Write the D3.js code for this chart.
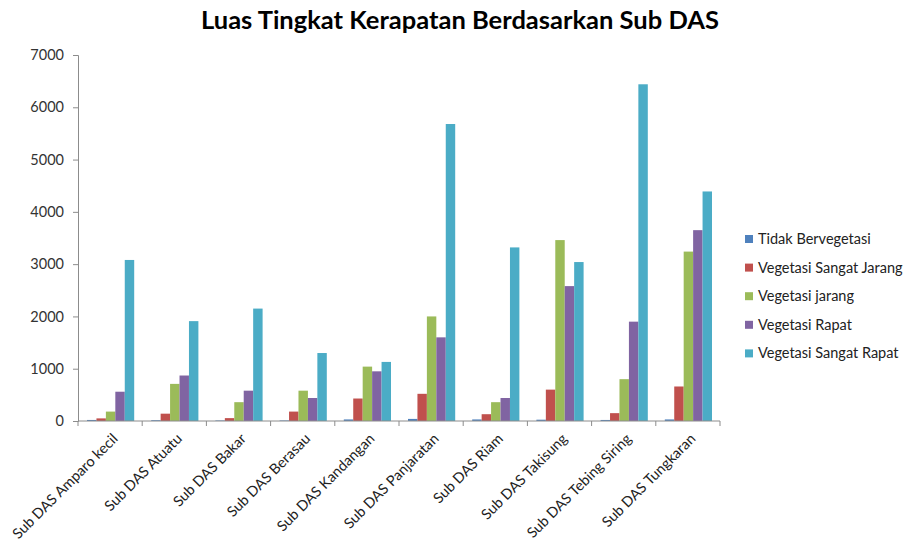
<!DOCTYPE html>
<html>
<head>
<meta charset="utf-8">
<script src="https://cdn.jsdelivr.net/npm/d3@7"></script>
<style>
  body { margin: 0; background: #fff; }
  svg { font-family: Lato, "Open Sans", sans-serif; }
</style>
</head>
<body>
<div id="vis"></div>
<script>
var categories = ["Sub DAS Amparo kecil", "Sub DAS Atuatu", "Sub DAS Bakar", "Sub DAS Berasau",
  "Sub DAS Kandangan", "Sub DAS Panjaratan", "Sub DAS Riam", "Sub DAS Takisung",
  "Sub DAS Tebing Siring", "Sub DAS Tungkaran"];
var seriesNames = ["Tidak Bervegetasi", "Vegetasi Sangat Jarang", "Vegetasi jarang", "Vegetasi Rapat", "Vegetasi Sangat Rapat"];
var tidakBervegetasi   = [20, 15, 10, 10, 30, 40, 30, 25, 20, 30];
var sangatJarang       = [50, 140, 55, 180, 430, 520, 130, 600, 150, 660];
var jarang             = [180, 710, 360, 580, 1040, 2000, 360, 3460, 800, 3240];
var rapat              = [560, 870, 580, 440, 950, 1600, 440, 2580, 1900, 3650];
var sangatRapat        = [3080, 1910, 2150, 1300, 1130, 5680, 3320, 3040, 6440, 4390];
var yTicks = [0, 1000, 2000, 3000, 4000, 5000, 6000, 7000];
var colours = ["#4F81BD", "#C0504D", "#9BBB59", "#8064A2", "#4BACC6"];

var allSeries = [tidakBervegetasi, sangatJarang, jarang, rapat, sangatRapat];

var width = 908, height = 541;
var plot = {left: 78, right: 720, top: 55, bottom: 421};

var svg = d3.select("#vis").append("svg")
  .attr("width", width)
  .attr("height", height);

var x0 = d3.scaleBand().domain(categories).range([plot.left, plot.right]).padding(0);
var x1 = d3.scaleBand().domain(d3.range(seriesNames.length))
  .range([9, x0.bandwidth() - 8]).padding(0);
var y = d3.scaleLinear().domain([0, 7000]).range([plot.bottom, plot.top]);

// title
svg.append("text")
  .attr("x", 460).attr("y", 29)
  .attr("text-anchor", "middle")
  .style("font-size", "25.5px")
  .style("font-weight", "bold")
  .style("fill", "#000")
  .text("Luas Tingkat Kerapatan Berdasarkan Sub DAS");

// bars
var groups = svg.selectAll(".cat")
  .data(categories)
  .enter().append("g")
  .attr("class", "cat")
  .attr("transform", function(d) { return "translate(" + x0(d) + ",0)"; });

groups.selectAll("rect")
  .data(function(d, i) { return allSeries.map(function(s, k) { return {k: k, v: s[i]}; }); })
  .enter().append("rect")
  .attr("x", function(d) { return x1(d.k); })
  .attr("width", x1.bandwidth())
  .attr("y", function(d) { return y(d.v); })
  .attr("height", function(d) { return plot.bottom - y(d.v); })
  .attr("fill", function(d) { return colours[d.k]; });

// y axis
var yAxis = svg.append("g")
  .attr("transform", "translate(" + plot.left + ",0)")
  .call(d3.axisLeft(y).tickValues(yTicks).tickSize(5).tickPadding(9).tickFormat(d3.format("d")));
yAxis.select(".domain").attr("stroke", "#8c8c8c");
yAxis.selectAll(".tick line").attr("stroke", "#8c8c8c");
yAxis.selectAll("text").style("font-size", "14.5px").style("fill", "#333").style("font-family", "Lato, sans-serif");

// x axis
var xAxisG = svg.append("g").attr("transform", "translate(0," + plot.bottom + ")");
xAxisG.append("line")
  .attr("x1", plot.left).attr("x2", plot.right)
  .attr("stroke", "#8c8c8c");
xAxisG.selectAll(".xt")
  .data(categories.concat(["end"]))
  .enter().append("line")
  .attr("x1", function(d, i) { return i < categories.length ? x0(d) : plot.right; })
  .attr("x2", function(d, i) { return i < categories.length ? x0(d) : plot.right; })
  .attr("y1", 0).attr("y2", 5)
  .attr("stroke", "#8c8c8c");
xAxisG.selectAll(".xl")
  .data(categories)
  .enter().append("text")
  .attr("transform", function(d) {
    return "translate(" + (x0(d) + x0.bandwidth() / 2 + 5) + ",15) rotate(-45)";
  })
  .attr("text-anchor", "end")
  .attr("dy", "0.35em")
  .style("font-size", "14.5px")
  .style("fill", "#222")
  .text(function(d) { return d; });

// legend
var legend = svg.selectAll(".legend")
  .data(seriesNames)
  .enter().append("g")
  .attr("transform", function(d, i) { return "translate(745," + (239 + i * 28.6) + ")"; });
legend.append("rect")
  .attr("x", 0).attr("y", -4)
  .attr("width", 8).attr("height", 8)
  .attr("fill", function(d, i) { return colours[i]; });
legend.append("text")
  .attr("x", 13).attr("dy", "0.35em")
  .style("font-size", "14.5px")
  .style("fill", "#222")
  .text(function(d) { return d; });
</script>
</body>
</html>
